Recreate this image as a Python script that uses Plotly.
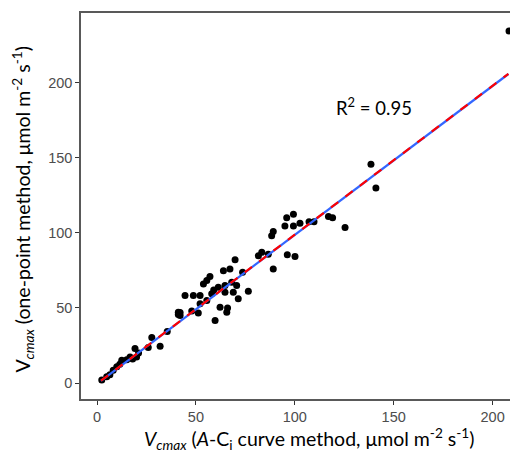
import plotly.graph_objects as go

# Scatter data: Vcmax from A-Ci curve (x) vs one-point method (y)
aci_vcmax = [2.4, 4.9, 6.5, 8.2, 10.0, 11.5, 12.5, 15.0, 16.7, 18.0, 20.0, 19.2, 21.0,
             25.9, 27.7, 31.9, 35.5, 41.1, 42.0,
             41.1, 42.0, 44.5, 47.9, 48.7, 51.2, 52.1, 52.1, 53.8, 55.5, 57.1, 55.5,
             58.0, 59.7, 61.3, 62.2, 63.9, 64.7, 64.7, 65.6, 67.2, 68.1, 68.9, 69.8,
             70.6, 71.4, 73.6, 76.5, 59.0, 66.0,
             81.6, 83.3, 86.6, 88.3, 89.1, 89.1, 95.0, 95.9, 99.3, 99.3, 102.6, 96.2,
             100.1, 107.2, 109.7, 117.0, 119.1, 125.4, 138.5, 141.0, 208.3]
onepoint_vcmax = [2.0, 4.2, 5.5, 8.6, 10.8, 12.5, 15.2, 15.6, 17.4, 16.0, 17.4, 23.0, 20.0,
                  23.6, 30.3, 24.5, 34.4, 45.7, 47.0,
                  47.2, 45.0, 58.3, 47.9, 58.3, 46.6, 58.3, 52.8, 66.0, 68.2, 70.9, 55.0,
                  59.4, 41.7, 63.8, 50.5, 74.8, 64.9, 60.5, 47.2, 76.0, 67.1, 60.5, 82.1,
                  64.9, 56.1, 73.7, 61.1, 62.0, 50.0,
                  84.8, 87.0, 85.8, 98.0, 100.9, 76.0, 104.6, 110.1, 112.4, 104.6, 106.4, 85.4,
                  84.3, 107.3, 107.3, 110.8, 110.1, 103.5, 145.7, 129.8, 234.4]

# Fitted lines (endpoints)
fit_x = [2.0, 208.0]
fit_y = [1.5, 205.7]
ref_x = [2.0, 208.0]
ref_y = [1.6, 205.8]

r2_label = "R<sup>2</sup> = 0.95"
x_title = "<i>V<sub>cmax</sub></i> (<i>A</i>-C<sub>i</sub> curve method, μmol m<sup>-2</sup> s<sup>-1</sup>)"
y_title = "V<sub><i>cmax</i></sub> (one-point method, μmol m<sup>-2</sup> s<sup>-1</sup>)"
x_ticks = [0, 50, 100, 150, 200]
y_ticks = [0, 50, 100, 150, 200]

fig = go.Figure()
fig.add_trace(go.Scatter(x=aci_vcmax, y=onepoint_vcmax, mode="markers",
                         marker=dict(color="black", size=7), showlegend=False))
fig.add_trace(go.Scatter(x=fit_x, y=fit_y, mode="lines",
                         line=dict(color="#3366FF", width=2.2), showlegend=False))
fig.add_trace(go.Scatter(x=ref_x, y=ref_y, mode="lines",
                         line=dict(color="#FF0000", width=2.2, dash="dash"), showlegend=False))

title_font = dict(family="Lato", size=19.5, color="black")

fig.add_annotation(x=140, y=184, xref="x", yref="y", text=r2_label, showarrow=False,
                   font=dict(family="Lato", size=18.5, color="black"))
fig.add_annotation(x=0.509, y=-0.104, xref="paper", yref="paper", text=x_title,
                   showarrow=False, xanchor="center", yanchor="middle", font=title_font)
fig.add_annotation(x=-0.13, y=0.49, xref="paper", yref="paper", text=y_title,
                   showarrow=False, xanchor="center", yanchor="middle", textangle=-90,
                   font=title_font)

fig.update_layout(
    width=526, height=449,
    margin=dict(l=73, r=5, t=3, b=57.5),
    plot_bgcolor="white", paper_bgcolor="white",
    xaxis=dict(range=[-8.1, 218.4], tickvals=x_ticks, showgrid=False, zeroline=False,
               showline=True, linecolor="#595959", linewidth=1.5, mirror=True,
               ticks="outside", ticklen=4, tickcolor="#333333",
               tickfont=dict(family="Liberation Sans", size=14.5, color="#4D4D4D")),
    yaxis=dict(range=[-10.6, 246.3], tickvals=y_ticks, showgrid=False, zeroline=False,
               showline=True, linecolor="#595959", linewidth=1.5, mirror=False,
               ticks="outside", ticklen=4, tickcolor="#333333",
               tickfont=dict(family="Liberation Sans", size=14.5, color="#4D4D4D")),
)
fig.write_html("out.html")
